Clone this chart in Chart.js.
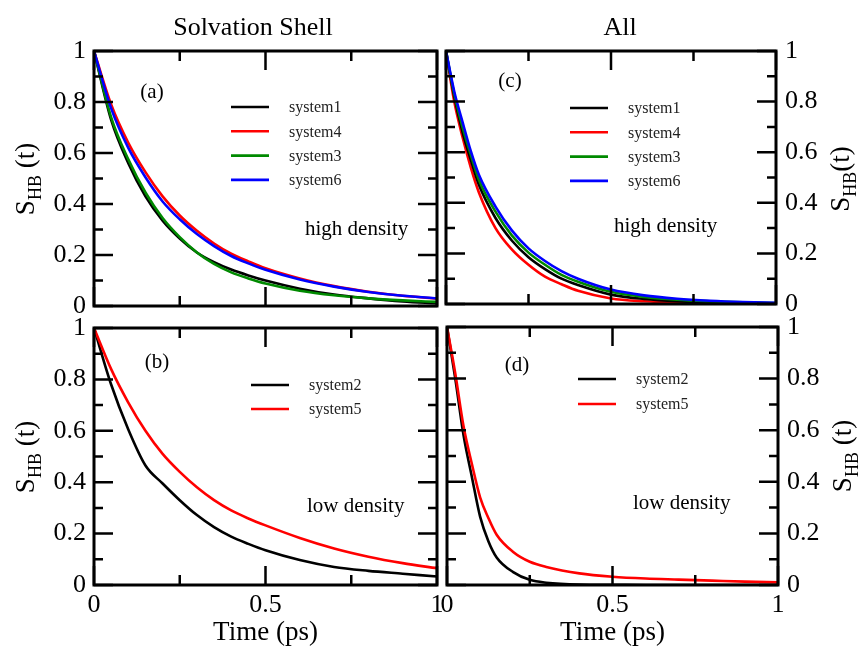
<!DOCTYPE html>
<html>
<head>
<meta charset="utf-8">
<script src="https://cdn.jsdelivr.net/npm/chart.js@4.4.1/dist/chart.umd.min.js"></script>
<style>
  html, body { margin: 0; padding: 0; background: #fff; }
  #wrap { position: relative; width: 862px; height: 647px; }
  canvas { position: absolute; left: 0; top: 0; }
</style>
</head>
<body>
<div id="wrap">
  <canvas id="panelA" width="862" height="647"></canvas>
  <canvas id="panelB" width="862" height="647"></canvas>
  <canvas id="panelC" width="862" height="647"></canvas>
  <canvas id="panelD" width="862" height="647"></canvas>
</div>
<script>
// time grids (ps)
const timeShell = [0, 0.05, 0.1, 0.15, 0.2, 0.25, 0.3, 0.35, 0.4, 0.45, 0.5, 0.6, 0.7, 0.8, 0.9, 1];
const timeAllHigh = [0, 0.025, 0.05, 0.075, 0.1, 0.15, 0.2, 0.25, 0.3, 0.35, 0.4, 0.5, 0.6, 0.7, 0.8, 0.9, 1];
const timeAllLow = [0, 0.025, 0.05, 0.075, 0.1, 0.125, 0.15, 0.2, 0.25, 0.3, 0.4, 0.5, 0.6, 0.7, 0.8, 0.9, 1];

// (a) solvation shell, high density
const shellSys1 = [1, 0.73, 0.56, 0.43, 0.335, 0.265, 0.21, 0.172, 0.143, 0.12, 0.1, 0.068, 0.045, 0.03, 0.018, 0.01];
const shellSys4 = [1, 0.79, 0.64, 0.525, 0.43, 0.355, 0.295, 0.245, 0.205, 0.175, 0.148, 0.108, 0.078, 0.056, 0.04, 0.029];
const shellSys3 = [1, 0.74, 0.575, 0.445, 0.345, 0.27, 0.21, 0.165, 0.132, 0.108, 0.088, 0.06, 0.042, 0.03, 0.022, 0.016];
const shellSys6 = [1, 0.775, 0.62, 0.505, 0.41, 0.34, 0.282, 0.235, 0.196, 0.167, 0.142, 0.104, 0.076, 0.055, 0.04, 0.03];

// (b) solvation shell, low density
const shellSys2 = [1, 0.78, 0.605, 0.465, 0.395, 0.33, 0.272, 0.225, 0.188, 0.16, 0.135, 0.097, 0.07, 0.055, 0.044, 0.033];
const shellSys5 = [1, 0.84, 0.71, 0.6, 0.51, 0.44, 0.38, 0.33, 0.29, 0.259, 0.232, 0.183, 0.142, 0.11, 0.085, 0.065];

// (c) all, high density
const allSys1 = [1, 0.82, 0.68, 0.57, 0.47, 0.34, 0.25, 0.185, 0.138, 0.1, 0.075, 0.037, 0.02, 0.011, 0.007, 0.004, 0.003];
const allSys4 = [1, 0.8, 0.66, 0.54, 0.44, 0.3, 0.215, 0.155, 0.108, 0.078, 0.052, 0.022, 0.011, 0.006, 0.004, 0.002, 0.001];
const allSys3 = [1, 0.83, 0.7, 0.59, 0.49, 0.365, 0.27, 0.203, 0.155, 0.115, 0.088, 0.048, 0.028, 0.017, 0.011, 0.007, 0.004];
const allSys6 = [1, 0.84, 0.72, 0.605, 0.51, 0.385, 0.29, 0.22, 0.17, 0.13, 0.1, 0.057, 0.034, 0.021, 0.013, 0.008, 0.005];

// (d) all, low density
const allSys2 = [1, 0.8, 0.58, 0.42, 0.265, 0.17, 0.107, 0.05, 0.02, 0.009, 0.002, 0.001, 0, 0, 0, 0, 0];
const allSys5 = [1, 0.82, 0.615, 0.47, 0.34, 0.26, 0.195, 0.128, 0.09, 0.07, 0.045, 0.032, 0.025, 0.021, 0.017, 0.013, 0.01];

// axes
const yTicks = [0, 0.2, 0.4, 0.6, 0.8, 1];
const yMinor = [0.1, 0.3, 0.5, 0.7, 0.9];
const xTicks = [0, 0.5, 1];
const xMinor = [0.25, 0.75];

const serif = "'Liberation Serif', 'Times New Roman', serif";
Chart.defaults.font.family = serif;

function series(times, vals) {
  return times.map((t, i) => ({ x: t, y: vals[i] }));
}

function line(label, times, vals, color, order) {
  return {
    label: label,
    data: series(times, vals),
    borderColor: color,
    backgroundColor: color,
    borderWidth: 2.6,
    pointRadius: 0,
    cubicInterpolationMode: 'monotone',
    order: order
  };
}

function drawYTitle(ctx, o) {
  ctx.save();
  ctx.translate(o.x, o.y);
  ctx.rotate(-Math.PI / 2);
  ctx.textAlign = 'left';
  ctx.textBaseline = 'alphabetic';
  ctx.fillStyle = '#000';
  const big = '27px ' + serif, small = '18px ' + serif;
  ctx.font = big;
  const wS = ctx.measureText('S').width;
  const wT = ctx.measureText(o.tail).width;
  ctx.font = small;
  const wH = ctx.measureText('HB').width;
  let x = -(wS + wH + wT) / 2;
  ctx.font = big; ctx.fillText('S', x, 0); x += wS;
  ctx.font = small; ctx.fillText('HB', x, 7); x += wH;
  ctx.font = big; ctx.fillText(o.tail, x, 0);
  ctx.restore();
}

const panelDecor = {
  id: 'panelDecor',
  afterDraw(chart, args, o) {
    const ctx = chart.ctx, a = chart.chartArea;
    const xs = chart.scales.x, ys = chart.scales.y;
    ctx.save();
    ctx.strokeStyle = '#000';
    ctx.lineWidth = 2.5;
    const xt = (vals, len) => vals.forEach(v => {
      const p = xs.getPixelForValue(v);
      ctx.beginPath();
      ctx.moveTo(p, a.bottom); ctx.lineTo(p, a.bottom - len);
      ctx.moveTo(p, a.top); ctx.lineTo(p, a.top + len);
      ctx.stroke();
    });
    const yt = (vals, len) => vals.forEach(v => {
      const p = ys.getPixelForValue(v);
      ctx.beginPath();
      ctx.moveTo(a.left, p); ctx.lineTo(a.left + len, p);
      ctx.moveTo(a.right, p); ctx.lineTo(a.right - len, p);
      ctx.stroke();
    });
    xt(xTicks, 19); xt(xMinor, 10);
    yt(yTicks, 19); yt(yMinor, 9);
    ctx.lineWidth = 3;
    ctx.strokeRect(a.left, a.top, a.right - a.left, a.bottom - a.top);

    ctx.fillStyle = '#000';
    if (o.title) {
      ctx.font = '26px ' + serif;
      ctx.textAlign = 'center';
      ctx.textBaseline = 'alphabetic';
      ctx.fillText(o.title, o.titleX, 35);
    }
    if (o.xTitle) {
      ctx.font = '27px ' + serif;
      ctx.textAlign = 'center';
      ctx.textBaseline = 'alphabetic';
      ctx.fillText('Time (ps)', (a.left + a.right) / 2, 640);
    }
    ctx.font = '21px ' + serif;
    ctx.textAlign = 'center';
    ctx.textBaseline = 'middle';
    ctx.fillText(o.tag, o.tagX, o.tagY);
    ctx.textAlign = 'left';
    ctx.textBaseline = 'alphabetic';
    ctx.fillText(o.note, o.noteX, o.noteY);

    // legend
    const lg = o.legend;
    ctx.font = '16px ' + serif;
    ctx.textBaseline = 'middle';
    chart.data.datasets.forEach((ds, i) => {
      const y = lg.y + i * lg.dy;
      ctx.strokeStyle = ds.borderColor;
      ctx.lineWidth = 2.6;
      ctx.beginPath();
      ctx.moveTo(lg.x, y); ctx.lineTo(lg.x + 38, y);
      ctx.stroke();
      ctx.fillStyle = '#222';
      ctx.fillText(ds.label, lg.x + 58, y + 1);
    });
    ctx.restore();
    drawYTitle(ctx, o.yTitle);
  }
};

function makePanel(id, rect, side, showX, datasets, deco) {
  const W = 60, H = 40;
  return new Chart(document.getElementById(id), {
    type: 'line',
    data: { datasets: datasets },
    plugins: [panelDecor],
    options: {
      responsive: false,
      animation: false,
      layout: {
        padding: {
          left: side === 'left' ? rect.l - W : rect.l,
          right: side === 'left' ? 862 - rect.r : 862 - rect.r - W,
          top: rect.t,
          bottom: 647 - rect.b - H
        }
      },
      plugins: {
        legend: { display: false },
        tooltip: { enabled: false },
        panelDecor: deco
      },
      scales: {
        x: {
          type: 'linear', min: 0, max: 1,
          afterBuildTicks: s => { s.ticks = xTicks.map(v => ({ value: v })); },
          afterFit: s => { s.height = H; },
          grid: { display: false, drawTicks: false },
          border: { display: false },
          ticks: {
            display: showX, color: '#000', font: { size: 26 }, padding: 5,
            maxRotation: 0, autoSkip: false, callback: v => String(v)
          }
        },
        y: {
          type: 'linear', position: side, min: 0, max: 1,
          afterBuildTicks: s => { s.ticks = yTicks.map(v => ({ value: v })); },
          afterFit: s => { s.width = W; },
          grid: { display: false, drawTicks: false },
          border: { display: false },
          ticks: {
            color: '#000', font: { size: 26 }, padding: side === 'left' ? 8 : 9,
            autoSkip: false, callback: v => String(v)
          }
        }
      }
    }
  });
}

makePanel('panelA', { l: 94, t: 51, r: 437, b: 306 }, 'left', false, [
  line('system1', timeShell, shellSys1, '#000000', 3),
  line('system4', timeShell, shellSys4, '#ff0000', 2),
  line('system3', timeShell, shellSys3, '#008a00', 1),
  line('system6', timeShell, shellSys6, '#0000ff', 0)
], {
  title: 'Solvation Shell', titleX: 253,
  tag: '(a)', tagX: 152, tagY: 92,
  note: 'high density', noteX: 305, noteY: 235,
  legend: { x: 231, y: 107, dy: 24.3 },
  yTitle: { x: 34, y: 179, tail: ' (t)' }
});

makePanel('panelB', { l: 94, t: 328, r: 437, b: 585 }, 'left', true, [
  line('system2', timeShell, shellSys2, '#000000', 1),
  line('system5', timeShell, shellSys5, '#ff0000', 0)
], {
  xTitle: true,
  tag: '(b)', tagX: 157, tagY: 362,
  note: 'low density', noteX: 307, noteY: 512,
  legend: { x: 251, y: 385, dy: 24 },
  yTitle: { x: 34, y: 457, tail: ' (t)' }
});

makePanel('panelC', { l: 446, t: 51, r: 776, b: 304 }, 'right', false, [
  line('system1', timeAllHigh, allSys1, '#000000', 2),
  line('system4', timeAllHigh, allSys4, '#ff0000', 3),
  line('system3', timeAllHigh, allSys3, '#008a00', 1),
  line('system6', timeAllHigh, allSys6, '#0000ff', 0)
], {
  title: 'All', titleX: 620,
  tag: '(c)', tagX: 510, tagY: 81,
  note: 'high density', noteX: 614, noteY: 232,
  legend: { x: 570, y: 108, dy: 24.3 },
  yTitle: { x: 849, y: 179, tail: '(t)' }
});

makePanel('panelD', { l: 447, t: 327, r: 778, b: 585 }, 'right', true, [
  line('system2', timeAllLow, allSys2, '#000000', 1),
  line('system5', timeAllLow, allSys5, '#ff0000', 0)
], {
  xTitle: true,
  tag: '(d)', tagX: 517, tagY: 365,
  note: 'low density', noteX: 633, noteY: 509,
  legend: { x: 578, y: 379, dy: 25 },
  yTitle: { x: 851, y: 456, tail: ' (t)' }
});
</script>
</body>
</html>
